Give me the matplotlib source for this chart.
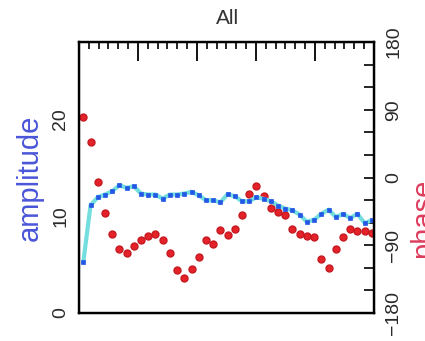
import matplotlib
matplotlib.use("Agg")
import matplotlib.pyplot as plt
from matplotlib.ticker import MultipleLocator, NullFormatter

plt.rcParams['font.family'] = ['Liberation Sans', 'DejaVu Sans']

# channel index along x
channels = list(range(41))

amplitude = [5.26, 11.13, 11.96, 12.24, 12.58, 13.2, 12.93, 13.1, 12.34, 12.24,
             12.24, 11.82, 12.24, 12.24, 12.34, 12.52, 12.16, 11.65, 11.65, 11.43,
             12.28, 12.06, 11.54, 11.54, 11.96, 11.79, 11.54, 11.1, 10.79, 10.61,
             10.16, 9.41, 9.64, 10.24, 10.68, 9.92, 10.24, 9.82, 10.24, 9.30, 9.57]

phase = [80.3, 47.7, -5.6, -46.9, -74.4, -95.3, -99.7, -90.4, -83.3, -77.1,
         -75.3, -82.4, -100.3, -122.4, -133.1, -121.1, -105.6, -82.4, -88.7, -70.4,
         -76.7, -68.7, -50.0, -21.6, -10.9, -24.3, -40.7, -46.4, -50.0, -68.7,
         -75.7, -77.6, -78.9, -107.7, -119.7, -94.4, -78.9, -68.3, -70.9, -71.3, -73.6]

amp_ticks = [0, 10, 20]
phase_ticks = [-180, -90, 0, 90, 180]

fig = plt.figure(figsize=(4.25, 3.41), dpi=100)
ax = fig.add_axes([79 / 425, 1 - 313 / 341, 295 / 425, 271 / 341])

ax.plot(channels, amplitude, color="#74dede", lw=3, zorder=3)
ax.plot(channels, amplitude, ls="none", marker="s", ms=3.2, color="#2457e6",
        mew=0.5, zorder=4)
ax.set_xlim(-0.6, 40.3)
ax.set_ylim(0, 28)
ax.set_xticks([])
ax.set_yticks(amp_ticks)
ax.tick_params(axis="y", length=0, pad=7, labelsize=14, labelcolor="#2a2a2a",
               labelrotation=90)
for lab in ax.get_yticklabels():
    lab.set_va("center")
ax.set_ylabel("amplitude", color="#4a55d8", fontsize=21)
ax.yaxis.set_label_coords(-35 / 295, 0.5)
for s in ax.spines.values():
    s.set_linewidth(1.6)

# phase on the right
ax2 = ax.twinx()
ax2.plot(channels, phase, ls="none", marker="o", ms=5, color="#e3222a",
         mec="#c81820", zorder=5)
ax2.set_ylim(-180, 180)
ax2.set_yticks(phase_ticks)
ax2.yaxis.set_minor_locator(MultipleLocator(30))
ax2.tick_params(axis="y", which="both", direction="in", length=7, width=1.2,
                pad=8, labelsize=14, labelcolor="#2a2a2a", labelrotation=90)
for lab in ax2.get_yticklabels():
    lab.set_va("center")
ax2.set_zorder(ax.get_zorder() - 1)
ax.patch.set_visible(False)

# the right label runs off the edge, as in the original
fig.text(409 / 425, 1 - 218 / 341, "phase", rotation=90, ha="left",
         va="center", fontsize=21, color="#dc3d5c")

# ticks along the top
ax3 = ax.twiny()
ax3.set_xlim(0, 5)
ax3.xaxis.set_major_locator(MultipleLocator(1))
ax3.xaxis.set_minor_locator(MultipleLocator(1 / 6))
ax3.xaxis.set_major_formatter(NullFormatter())
ax3.tick_params(axis="x", which="major", direction="in", length=14, width=1.3)
ax3.tick_params(axis="x", which="minor", direction="in", length=5, width=1.2)
for s in ax3.spines.values():
    s.set_linewidth(1.6)

fig.text(228 / 425, 1 - 18 / 341, "All", ha="center", va="center",
         fontsize=15, color="#333333")

fig.savefig("out.png", dpi=100)
